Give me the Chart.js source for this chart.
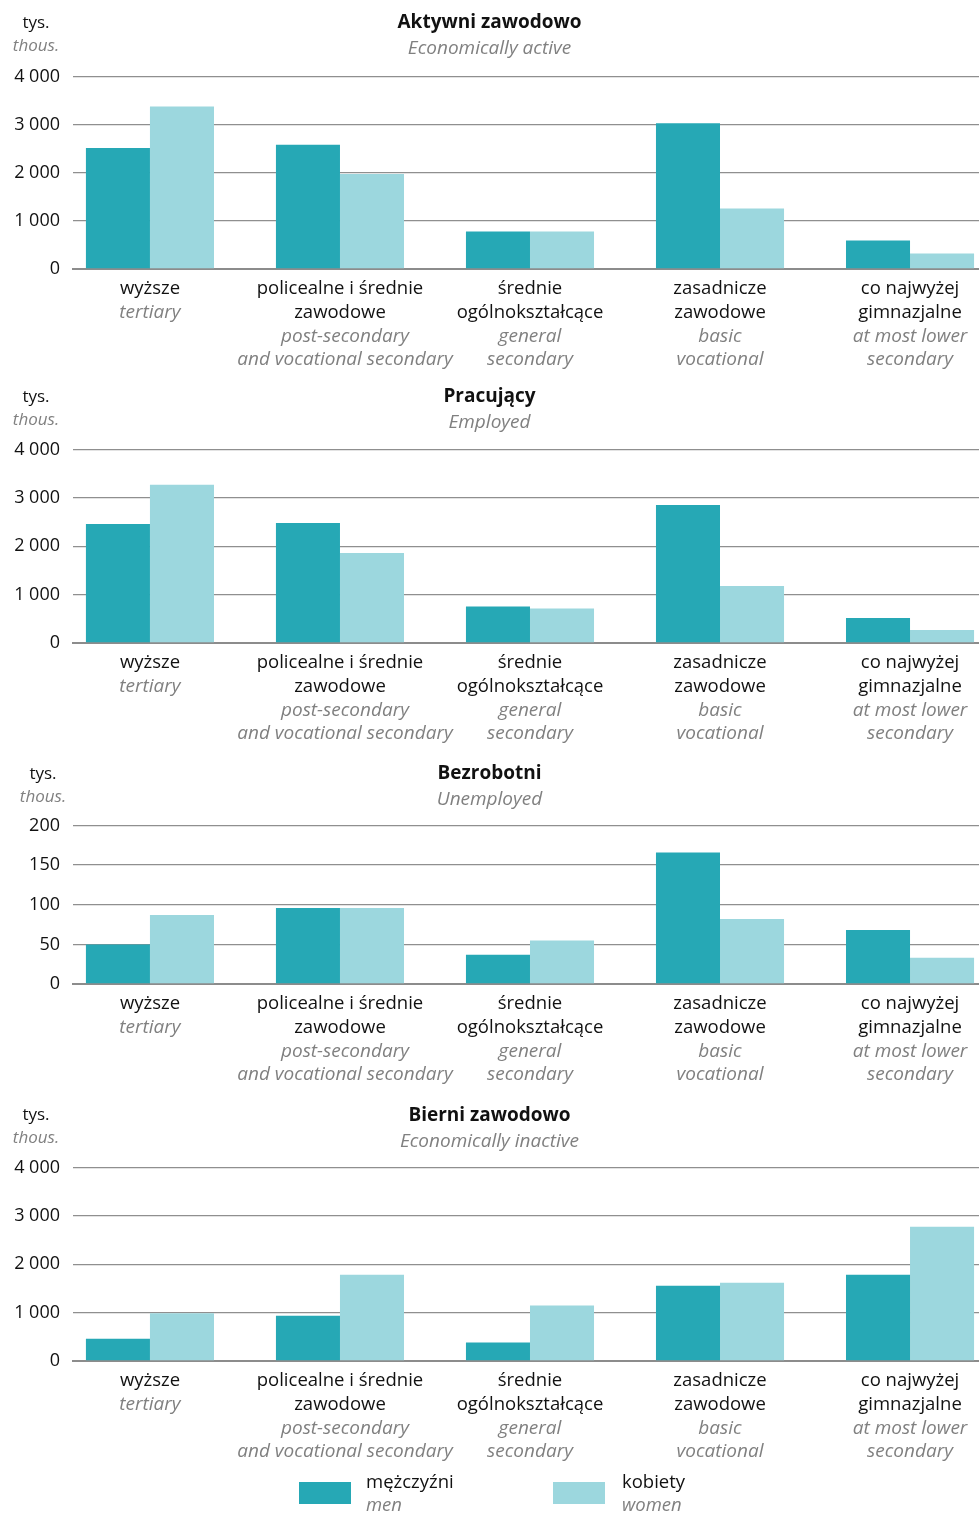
<!DOCTYPE html>
<html>
<head>
<meta charset="utf-8">
<script src="https://cdn.jsdelivr.net/npm/chart.js"></script>
<style>
    body { margin: 0; background: #fff; font-family: "Open Sans", sans-serif; }
    #wrap { position: relative; width: 979px; height: 1513px; overflow: hidden; }
    .panel { position: absolute; left: 0; width: 979px; }
    .jedn { position: absolute; width: 80px; text-align: center; font-size: 17px; line-height: 23px; color: #111; }
    .jedn i { color: #808080; }
    .leg-box { position: absolute; width: 52px; height: 22px; }
    .leg-txt { position: absolute; font-size: 18.5px; line-height: 23px; color: #111; }
    .leg-txt i { color: #808080; }
</style>
</head>
<body>
<div id="wrap">
    <div class="panel" style="top:0px;height:374px"><canvas id="chart-aktywni"></canvas></div>
    <div class="panel" style="top:374px;height:377px"><canvas id="chart-pracujacy"></canvas></div>
    <div class="panel" style="top:751px;height:342px"><canvas id="chart-bezrobotni"></canvas></div>
    <div class="panel" style="top:1093px;height:377px"><canvas id="chart-bierni"></canvas></div>

    <div class="jedn" style="left:-4px;top:10px">tys.<br><i>thous.</i></div>
    <div class="jedn" style="left:-4px;top:384px">tys.<br><i>thous.</i></div>
    <div class="jedn" style="left:3px;top:761px">tys.<br><i>thous.</i></div>
    <div class="jedn" style="left:-4px;top:1102px">tys.<br><i>thous.</i></div>

    <div class="leg-box" style="left:299px;top:1482px;background:#26a8b5"></div>
    <div class="leg-txt" style="left:366px;top:1469px">mężczyźni<br><i>men</i></div>
    <div class="leg-box" style="left:553px;top:1482px;background:#9cd7de"></div>
    <div class="leg-txt" style="left:622px;top:1469px">kobiety<br><i>women</i></div>
</div>
<script>
// kategorie (PL + EN)
var kategorie_pl = [
    ["wyższe"],
    ["policealne i średnie", "zawodowe"],
    ["średnie", "ogólnokształcące"],
    ["zasadnicze", "zawodowe"],
    ["co najwyżej", "gimnazjalne"]
];
var kategorie_en = [
    ["tertiary"],
    ["post-secondary", "and vocational secondary"],
    ["general", "secondary"],
    ["basic", "vocational"],
    ["at most lower", "secondary"]
];

// tys. osób
var aktywni_m = [2515, 2580, 780, 3030, 590];
var aktywni_k = [3375, 1975, 780, 1255, 320];
var pracujacy_m = [2460, 2480, 755, 2855, 515];
var pracujacy_k = [3270, 1860, 715, 1180, 270];
var bezrobotni_m = [50, 96, 37, 166, 68];
var bezrobotni_k = [87, 96, 55, 82, 33];
var bierni_m = [460, 935, 380, 1555, 1785];
var bierni_k = [985, 1785, 1145, 1620, 2775];

var ticks_duze = [0, 1000, 2000, 3000, 4000];
var ticks_male = [0, 50, 100, 150, 200];

var FONT = "'Open Sans', sans-serif";
var KOLOR_M = "#26a8b5";
var KOLOR_K = "#9cd7de";
var LH = 23.7;

function formatTys(v) {
    return String(v).replace(/\B(?=(\d{3})+(?!\d))/g, " ");
}

// angielskie podpisy pod polskimi (szare, kursywa)
var podpisyEN = {
    id: "podpisyEN",
    afterDraw: function (chart) {
        var sx = chart.scales.x;
        var ctx = chart.ctx;
        ctx.save();
        ctx.font = "italic 19px " + FONT;
        ctx.fillStyle = "#808080";
        ctx.textAlign = "center";
        ctx.textBaseline = "middle";
        for (var i = 0; i < kategorie_en.length; i++) {
            var x = sx.getPixelForValue(i);
            var start = kategorie_pl[i].length;
            for (var k = 0; k < kategorie_en[i].length; k++) {
                var y = sx.top + 8 + LH * (start + k + 0.5);
                ctx.fillText(kategorie_en[i][k], x + (i == 1 ? 5 : 0), y);
            }
        }
        ctx.restore();
    }
};

function CreateChart(id, tytul, podtytul, dane_m, dane_k, ticks, plotTop, xHeight) {
    var ctx = document.getElementById(id).getContext("2d");
    var maxY = ticks[ticks.length - 1];
    return new Chart(ctx, {
        type: "bar",
        data: {
            datasets: [{
                label: "mężczyźni",
                backgroundColor: KOLOR_M,
                data: dane_m.map(function (v, i) { return { x: i, y: v }; })
            }, {
                label: "kobiety",
                backgroundColor: KOLOR_K,
                data: dane_k.map(function (v, i) { return { x: i, y: v }; })
            }]
        },
        options: {
            responsive: true,
            maintainAspectRatio: false,
            animation: false,
            layout: { padding: { left: 0, right: 0, top: 0, bottom: 0 } },
            datasets: { bar: { categoryPercentage: 0.674, barPercentage: 1.0 } },
            plugins: {
                legend: { display: false },
                tooltip: { enabled: false },
                title: {
                    display: true,
                    text: tytul,
                    color: "#111",
                    font: { family: FONT, size: 19, weight: "bold", lineHeight: 1.2 },
                    padding: { top: 11.5, bottom: 0 }
                },
                subtitle: {
                    display: true,
                    text: podtytul,
                    color: "#808080",
                    font: { family: FONT, size: 19, style: "italic", lineHeight: 1.2 },
                    padding: { top: 2.5, bottom: plotTop - 59.1 }
                }
            },
            scales: {
                x: {
                    type: "linear",
                    offset: false,
                    min: -0.405,
                    max: 4.363,
                    grid: { display: false, drawTicks: false, offset: false },
                    border: { display: true, color: "#8c8c8c", width: 2 },
                    ticks: {
                        stepSize: 1,
                        includeBounds: false,
                        autoSkip: false,
                        maxRotation: 0,
                        padding: 8,
                        color: "#111",
                        font: { family: FONT, size: 18.5, lineHeight: LH / 18.5 },
                        callback: function (v) {
                            var i = Math.round(v);
                            var l = kategorie_pl[i].slice();
                            for (var k = 0; k < kategorie_en[i].length; k++) l.push(" ");
                            return l;
                        }
                    },
                    afterFit: function (s) { s.height = xHeight; }
                },
                y: {
                    min: 0,
                    max: maxY,
                    afterBuildTicks: function (s) {
                        s.ticks = ticks.map(function (v) { return { value: v }; });
                    },
                    grid: { color: "#8f8f8f", lineWidth: 1.3, drawTicks: false },
                    border: { display: false },
                    ticks: {
                        padding: 13,
                        color: "#111",
                        font: { family: FONT, size: 18 },
                        callback: function (v) { return formatTys(v); }
                    },
                    afterFit: function (s) { s.width = 73; }
                }
            }
        },
        plugins: [podpisyEN]
    });
}

CreateChart("chart-aktywni", "Aktywni zawodowo", "Economically active", aktywni_m, aktywni_k, ticks_duze, 76, 105);
CreateChart("chart-pracujacy", "Pracujący", "Employed", pracujacy_m, pracujacy_k, ticks_duze, 75, 108);
CreateChart("chart-bezrobotni", "Bezrobotni", "Unemployed", bezrobotni_m, bezrobotni_k, ticks_male, 74, 109);
CreateChart("chart-bierni", "Bierni zawodowo", "Economically inactive", bierni_m, bierni_k, ticks_duze, 74, 109);
</script>
</body>
</html>
